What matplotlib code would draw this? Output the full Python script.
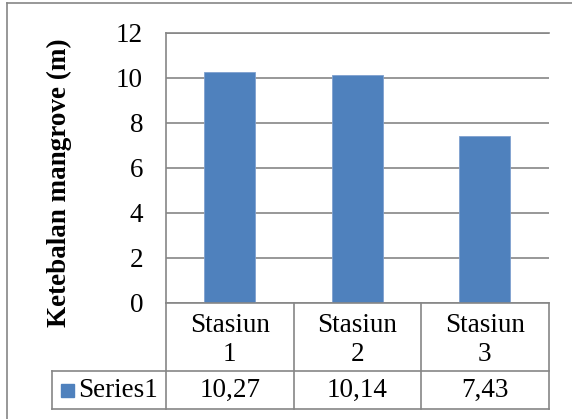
import matplotlib
matplotlib.use("Agg")
import matplotlib.pyplot as plt
from matplotlib.lines import Line2D
from matplotlib.patches import Rectangle
import matplotlib.transforms as mtransforms

categories = ["Stasiun\n1", "Stasiun\n2", "Stasiun\n3"]
values = [10.27, 10.14, 7.43]
series_name = "Series1"
y_label = "Ketebalan mangrove (m)"
y_ticks = [0, 2, 4, 6, 8, 10, 12]

plt.rcParams["font.family"] = ["Liberation Serif", "DejaVu Serif"]
W, H = 572, 419
bar_color = "#4F81BD"
line_color = "#868686"
fs = 19.5

fig = plt.figure(figsize=(W / 100, H / 100), dpi=100)

# plot area in pixels (from top-left)
left, right, top, bottom = 166, 548.5, 32.7, 302.7
ax = fig.add_axes([left / W, (H - bottom) / H, (right - left) / W, (bottom - top) / H])

x = list(range(len(categories)))
ax.bar(x, values, width=0.4, color=bar_color, edgecolor="#7FA1CF", linewidth=0.6, zorder=3)
ax.set_xlim(-0.5, len(categories) - 0.5)
ax.set_ylim(0, 12)
ax.set_yticks(y_ticks)
ax.set_yticklabels([str(t) for t in y_ticks], fontsize=fs)
ax.tick_params(axis="y", length=0, pad=16.5)
ax.set_xticks([])
ax.yaxis.grid(True, color=line_color, linewidth=1.2, zorder=0)
for s in ["top", "right"]:
    ax.spines[s].set_visible(False)
for s in ["left", "bottom"]:
    ax.spines[s].set_color(line_color)
    ax.spines[s].set_linewidth(1.2)
    ax.spines[s].set_zorder(4)
# top grid line at 12
ax.axhline(12, color=line_color, linewidth=1.2, clip_on=False, zorder=2)

ax.set_ylabel(y_label, fontsize=fs, fontweight="bold")
ax.yaxis.set_label_coords((72 - left) / (right - left), (bottom - 183) / (bottom - top))

# data table below the axes
ph = bottom - top
row1 = -(371 - bottom) / ph
row2 = -(409 - bottom) / ph
leg_left = (52 - left) / (right - left)
bt = mtransforms.blended_transform_factory(ax.transData, ax.transAxes)
kw = dict(color=line_color, linewidth=1.2, clip_on=False)
for xv in [-0.5 + i for i in range(len(categories) + 1)]:
    ax.add_line(Line2D([xv, xv], [0, row2], transform=bt, **kw))
for yv in [row1, row2]:
    ax.add_line(Line2D([leg_left, 1], [yv, yv], transform=ax.transAxes, **kw))
ax.add_line(Line2D([leg_left, leg_left], [row1, row2], transform=ax.transAxes, **kw))

for xi, cat, v in zip(x, categories, values):
    ax.text(xi, row1 / 2 - 0.012, cat, transform=bt, ha="center", va="center",
            fontsize=fs, linespacing=1.25)
    ax.text(xi, (row1 + row2) / 2, f"{v:.2f}".replace(".", ","), transform=bt,
            ha="center", va="center", fontsize=fs)

# legend key in the table
sq = 13 / W
fig.add_artist(Rectangle((61 / W, (H - 397) / H), sq, 13 / H, color=bar_color))
fig.text(78 / W, (H - 390) / H, series_name, fontsize=fs, ha="left", va="center")

# chart border
fig.add_artist(Line2D([7 / W, 1.05], [(H - 3.5) / H] * 2, color=line_color, linewidth=1.2))
fig.add_artist(Line2D([7 / W] * 2, [-0.05, (H - 3.5) / H], color=line_color, linewidth=1.2))

fig.savefig("out.png", dpi=100)
